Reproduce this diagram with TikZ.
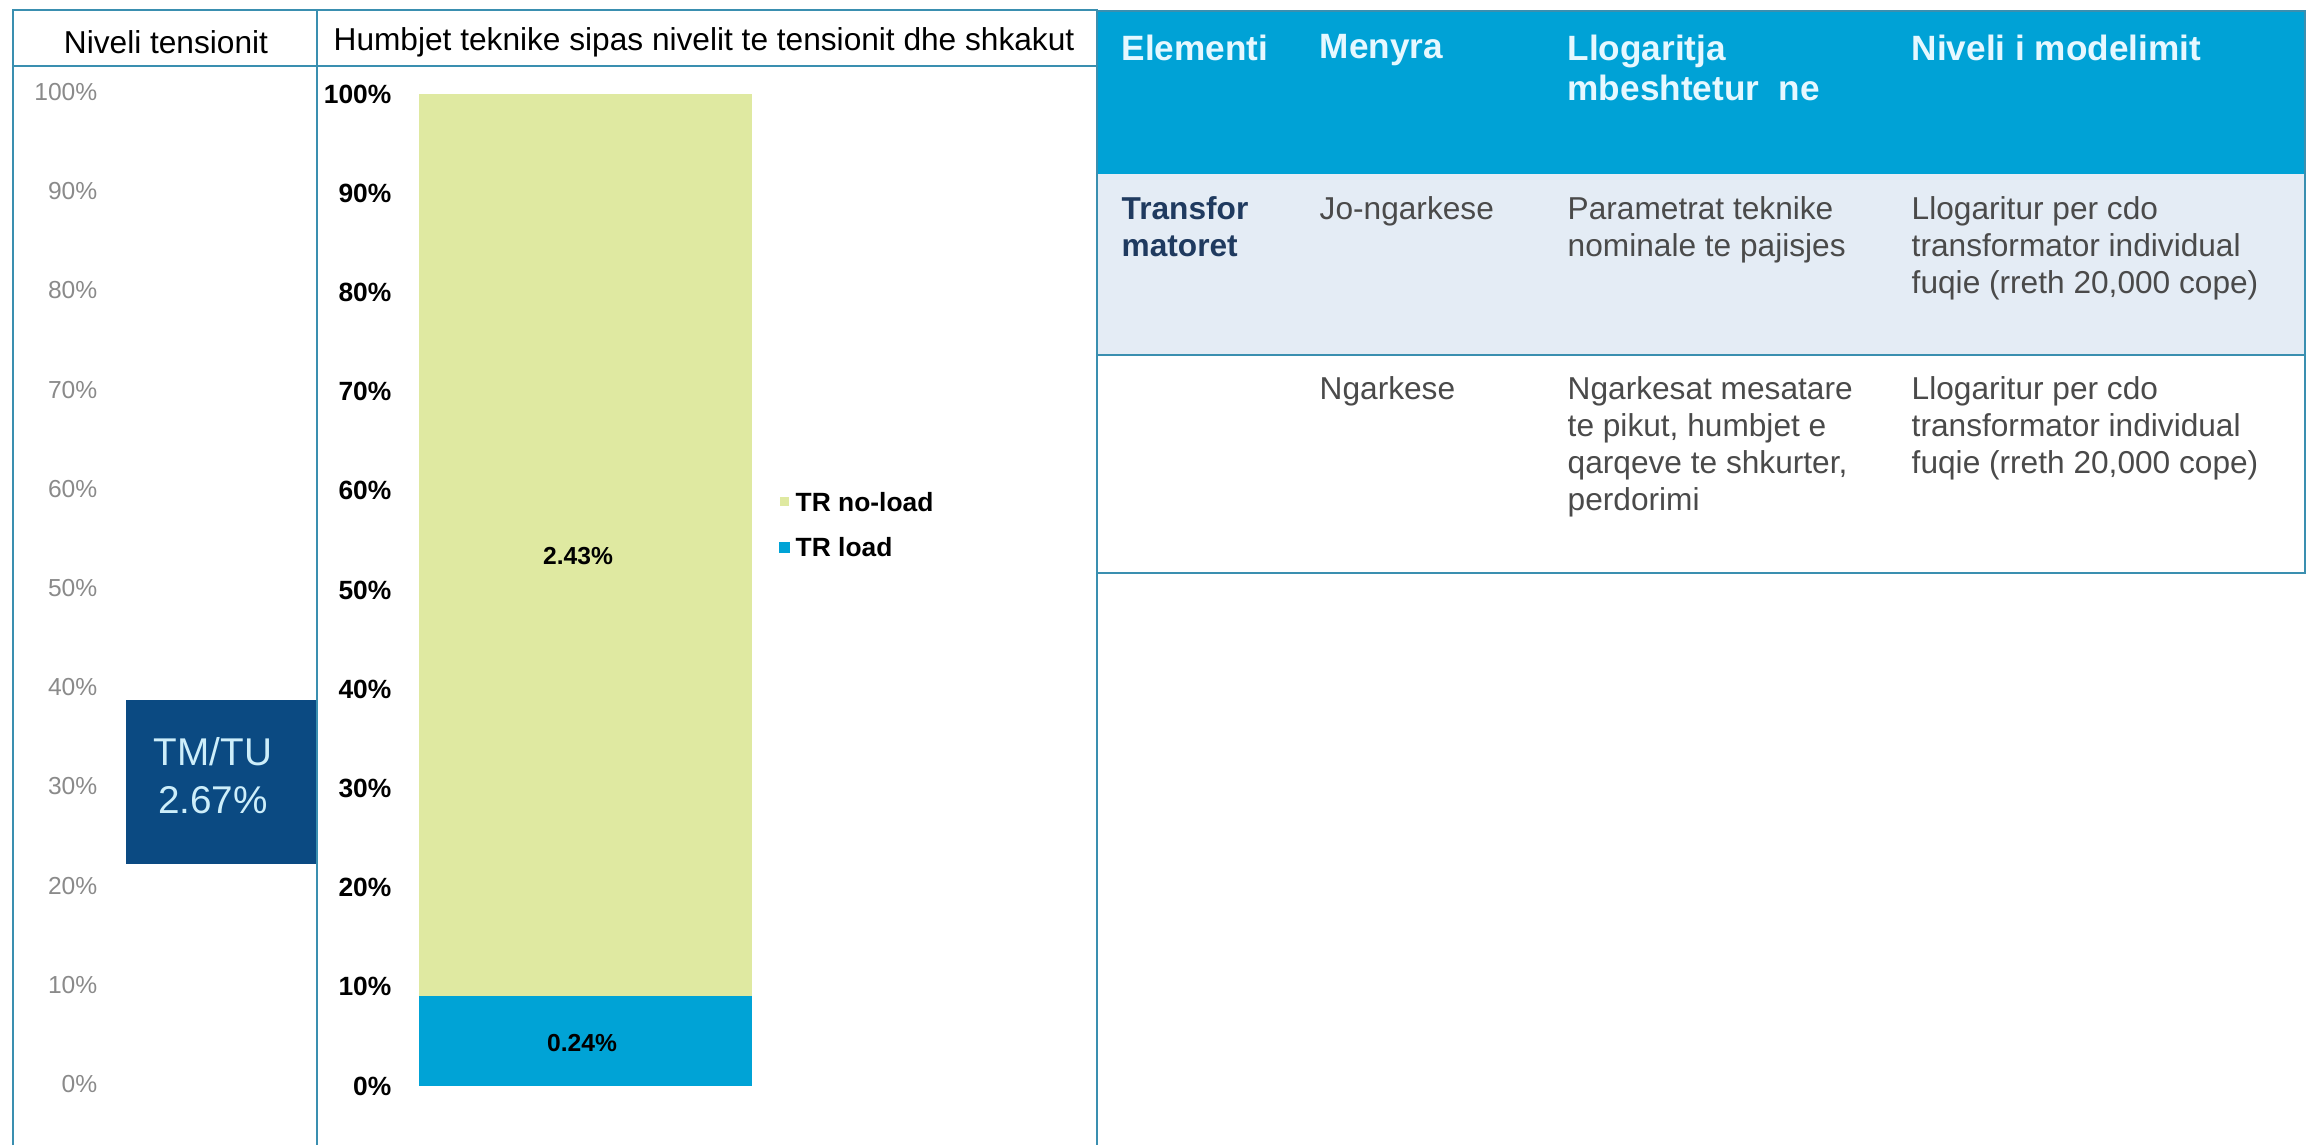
\documentclass[tikz,border=0pt]{standalone}
\usepackage{fontspec}
\setmainfont{Liberation Sans}
\usepackage{xcolor}
\definecolor{bordc}{HTML}{3A8FB0}
\definecolor{thblue}{HTML}{00A2D6}
\definecolor{thtext}{HTML}{E6F8FF}
\definecolor{rowbg}{HTML}{E4ECF5}
\definecolor{tnavy}{HTML}{1F3A5F}
\definecolor{tdgray}{HTML}{4A4A4A}
\definecolor{axgray}{HTML}{8A8A8A}
\definecolor{boxnavy}{HTML}{0B4A82}
\definecolor{boxtext}{HTML}{CDEEFA}
\definecolor{nogreen}{HTML}{DFE9A1}
\definecolor{ldblue}{HTML}{00A3D6}

\begin{document}
\begin{tikzpicture}[x=0.01cm,y=-0.01cm,
    frame/.style={draw=bordc,line width=0.7pt},
    hd/.style={inner sep=0pt,font=\fontsize{9}{11}\selectfont},
    axl/.style={anchor=east,inner sep=0pt,text=axgray,font=\fontsize{7}{8}\selectfont},
    axm/.style={anchor=east,inner sep=0pt,font=\bfseries\fontsize{7.5}{8}\selectfont},
    val/.style={inner sep=0pt,font=\bfseries\fontsize{7}{8}\selectfont},
    lg/.style={anchor=west,inner sep=0pt,font=\bfseries\fontsize{7.5}{8}\selectfont},
    th/.style={anchor=north west,inner sep=0pt,align=left,text=thtext,font=\bfseries\fontsize{10}{11.4}\selectfont},
    td/.style={anchor=north west,inner sep=0pt,align=left,text=tdgray,font=\fontsize{9}{10.5}\selectfont}]
    \useasboundingbox (0,0) rectangle (2307,1145);

    % fills
    \fill[thblue] (1097,11) rectangle (2305,174);
    \fill[rowbg] (1097,174) rectangle (2305,355);
    \fill[nogreen] (419,94) rectangle (752,996);
    \fill[ldblue] (419,996) rectangle (752,1086);
    \fill[boxnavy] (126,700) rectangle (317,864);
    \fill[nogreen] (780,497) rectangle (789,506);
    \fill[ldblue] (779,542) rectangle (790,553);

    % frames
    \draw[frame] (13,1145) -- (13,10) -- (1097,10) -- (1097,1145);
    \draw[frame] (317,10) -- (317,1145);
    \draw[frame] (13,66) -- (1097,66);
    \draw[frame] (1097,11) -- (2305,11) -- (2305,573) -- (1097,573);
    \draw[frame] (1097,355) -- (2305,355);

    \node[hd] (niv) at (166,42) {Niveli tensionit};
    \node[hd] (hum) at (704,42) {Humbjet teknike sipas nivelit te tensionit dhe shkakut};

    \foreach \p in {0,10,...,100} {
        \node[axl] (l\p) at (98,{1084-9.92*\p}) {\p\%};
        \node[axm] (m\p) at (392,{1086-9.92*\p}) {\p\%};
    }

    \node[inner sep=0pt,align=center,text=boxtext,font=\fontsize{11}{13.7}\selectfont] (tmtu) at (213,776) {TM/TU\\2.67\%};
    \node[val] (v243) at (578,556) {2.43\%};
    \node[val] (v024) at (582,1043) {0.24\%};
    \node[lg] (noload) at (795,502) {TR no-load};
    \node[lg] (load) at (795,547) {TR load};

    \node[th] (elem) at (1121,34) {Elementi};
    \node[th] (meny) at (1319,34) {Menyra};
    \node[th] (llog) at (1567,34) {Llogaritja\\mbeshtetur~~ne};
    \node[th] (nivm) at (1911,34) {Niveli i modelimit};

    \node[td,text=tnavy,font=\bfseries\fontsize{9}{10.5}\selectfont] (trans) at (1121,196) {Transfor\\matoret};
    \node[td] (jong) at (1319,196) {Jo-ngarkese};
    \node[td] (param) at (1567,196) {Parametrat teknike\\nominale te pajisjes};
    \node[td] (llogA) at (1911,196) {Llogaritur per cdo\\transformator individual\\fuqie (rreth 20,000 cope)};
    \node[td] (ngar) at (1319,376) {Ngarkese};
    \node[td] (ngmes) at (1567,376) {Ngarkesat mesatare\\te pikut, humbjet e\\qarqeve te shkurter,\\perdorimi};
    \node[td] (llogB) at (1911,376) {Llogaritur per cdo\\transformator individual\\fuqie (rreth 20,000 cope)};
\end{tikzpicture}
\end{document}
